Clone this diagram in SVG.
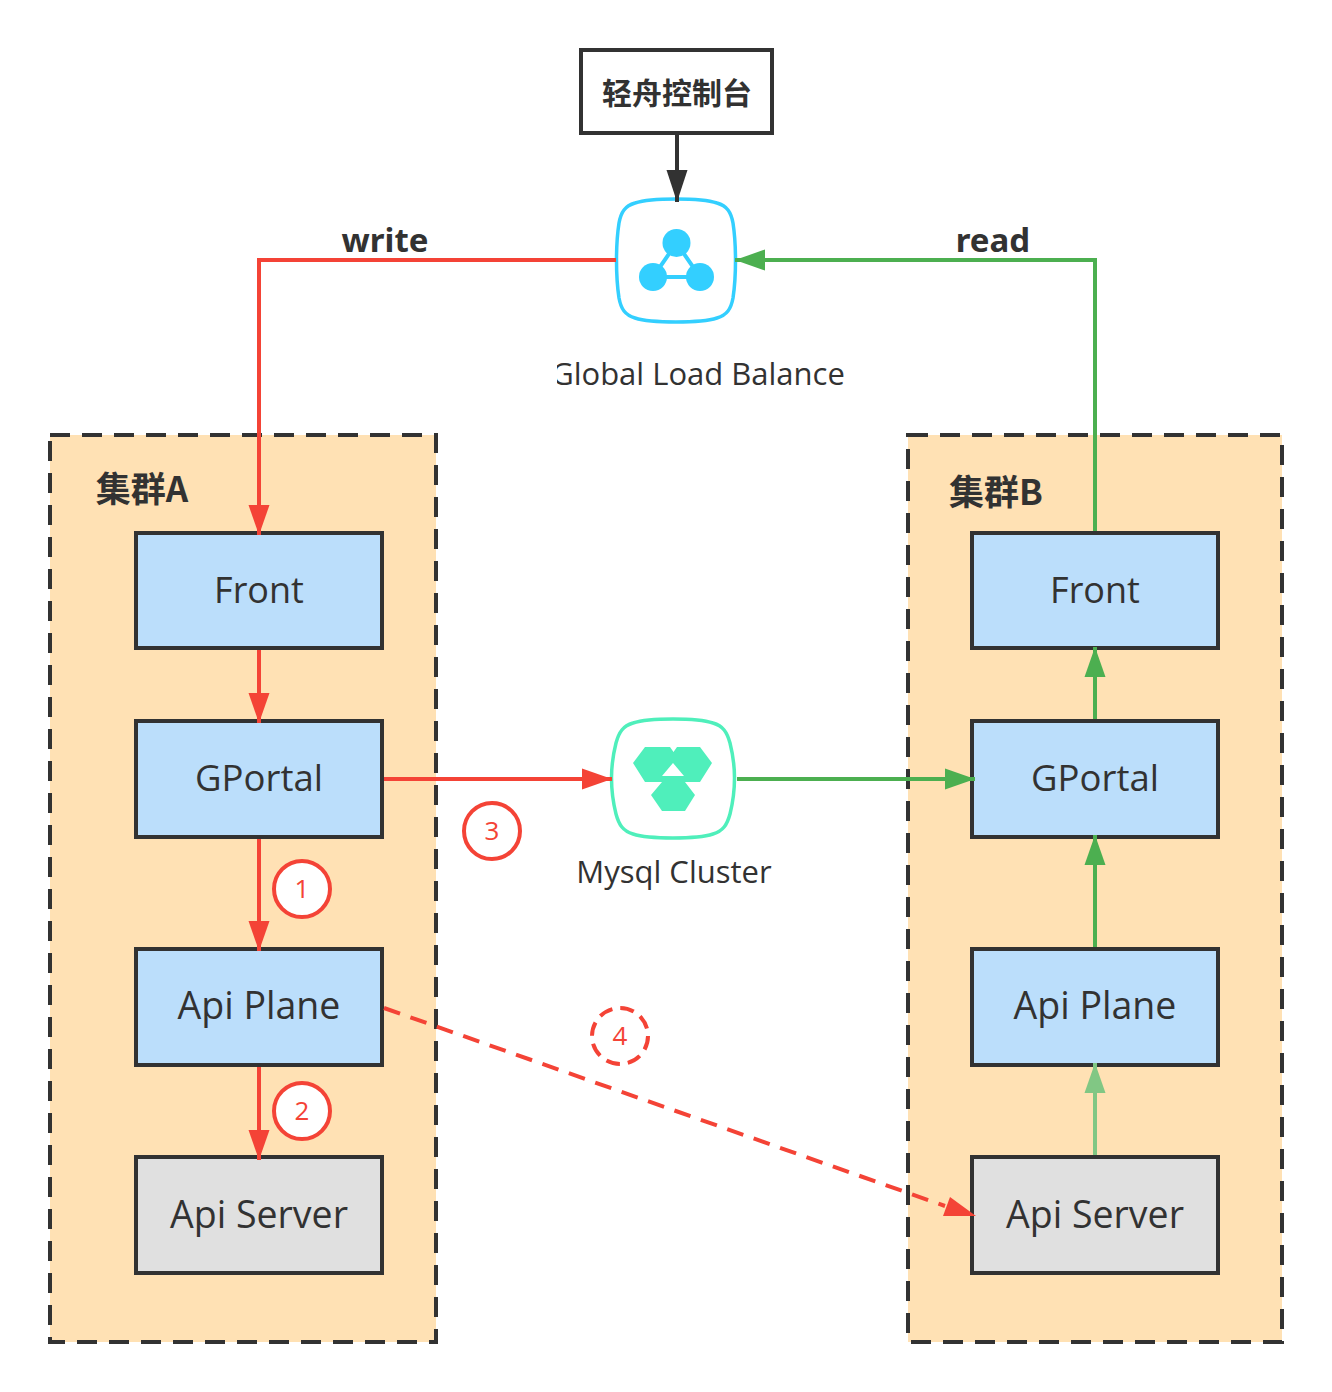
<svg xmlns="http://www.w3.org/2000/svg" width="1332" height="1392" viewBox="0 0 1332 1392">
<style>
text{font-family:"Open Sans","Noto Sans","Noto Sans CJK SC",sans-serif;fill:#323232;text-anchor:middle}
.cl{fill:#ffdfb0;fill-opacity:.95;stroke:#323232;stroke-width:4;stroke-dasharray:20 12}
.box{stroke:#323232;stroke-width:4}
.b{fill:#bbdefb}.g{fill:#e0e0e0}
.t{font-size:37px}
.h{font-size:35px;font-weight:700;font-family:"Noto Sans CJK SC","Noto Sans",sans-serif}
.lab{font-size:31px}
.w{font-size:33px;font-weight:700;font-family:"Noto Sans",sans-serif}
.n{font-size:26px;fill:#f44336}
.c{fill:#fff;stroke:#f44336;stroke-width:4}
.line{fill:none;stroke-width:4}
.r{stroke:#f44336}.gr{stroke:#4caf50}.k{stroke:#323232}
</style>
<defs>
<marker id="ar" markerUnits="userSpaceOnUse" markerWidth="31" markerHeight="22" refX="30" refY="11" orient="auto"><path d="M0 .5L30 11L0 21.500Z" fill="#f44336"/></marker>
<marker id="ag" markerUnits="userSpaceOnUse" markerWidth="31" markerHeight="22" refX="30" refY="11" orient="auto"><path d="M0 .5L30 11L0 21.500Z" fill="#4caf50"/></marker>
<marker id="al" markerUnits="userSpaceOnUse" markerWidth="31" markerHeight="22" refX="30" refY="11" orient="auto"><path d="M0 .5L30 11L0 21.500Z" fill="#81c784"/></marker>
<marker id="ak" markerUnits="userSpaceOnUse" markerWidth="33" markerHeight="22" refX="32" refY="11" orient="auto"><path d="M0 .5L32 11L0 21.500Z" fill="#323232"/></marker>
<clipPath id="gclip"><rect x="557" y="350" width="300" height="50"/></clipPath>
</defs>
<rect width="1332" height="1392" fill="#fff"/>
<g id="cluster-a"><rect class="cl" x="50" y="435" width="386" height="907"/><text class="h" x="142" y="502">集群A</text></g>
<g id="cluster-b"><rect class="cl" x="908" y="435" width="374" height="907"/><text class="h" x="996" y="505">集群B</text></g>
<g id="console"><rect x="581" y="50" width="191" height="83" fill="#fff" stroke="#323232" stroke-width="4"/><text x="677" y="104" style="font-size:30px;font-weight:700;font-family:'Noto Sans CJK SC',sans-serif">轻舟控制台</text></g>
<g id="glb">
<path d="M676 199C696 199 708 200 717 203C727 206 731 212 733 223C735 236 735.500 248 735.500 260C735.500 272 735 285 733 298C731 309 727 315 717 318C708 321 696 322 676 322C656 322 644 321 635 318C625 315 621 309 619 298C617 285 616.500 272 616.500 260C616.500 248 617 236 619 223C621 212 625 206 635 203C644 200 656 199 676 199Z" fill="#fff" stroke="#33cfff" stroke-width="3.500"/>
<path d="M676.500 243L653 277H700Z" fill="none" stroke="#33cfff" stroke-width="4"/>
<circle cx="676.500" cy="243" r="14" fill="#33cfff"/><circle cx="653" cy="277" r="14" fill="#33cfff"/><circle cx="700" cy="277" r="14" fill="#33cfff"/>
<text class="lab" x="698" y="385" clip-path="url(#gclip)">Global Load Balance</text>
</g>
<g id="mysql">
<path d="M673 719C692 719 704 720 713 723C723 726 727 732 730 743C733 755 734.500 766 734.500 778C734.500 790 733 802 730 814C727 825 723 831 713 834C704 837 692 838 673 838C654 838 642 837 633 834C623 831 619 825 616 814C613 802 611.500 790 611.500 778C611.500 766 613 755 616 743C619 732 623 726 633 723C642 720 654 719 673 719Z" fill="#fff" stroke="#4fefbb" stroke-width="3.500"/>
<path d="M633 763L645 747H670L673.500 752L677 747H700L712 763L700 782H685L695 795L685 811H662L651 795L662 782H645Z" fill="#4fefbb"/>
<path d="M662 776L673 763L684 776Z" fill="#fff"/>
<text class="lab" x="674" y="883">Mysql Cluster</text>
</g>
<g id="a-front"><rect class="box b" x="136" y="533" width="246" height="115"/><text class="t" x="259" y="603" style="font-size:36px">Front</text></g>
<g id="a-gportal"><rect class="box b" x="136" y="721" width="246" height="116"/><text class="t" x="259" y="791" style="font-size:36.500px">GPortal</text></g>
<g id="a-apiplane"><rect class="box b" x="136" y="949" width="246" height="116"/><text class="t" x="259" y="1019" style="font-size:37.500px">Api Plane</text></g>
<g id="a-apiserver"><rect class="box g" x="136" y="1157" width="246" height="116"/><text class="t" x="259" y="1228" style="font-size:37.500px">Api Server</text></g>
<g id="b-front"><rect class="box b" x="972" y="533" width="246" height="115"/><text class="t" x="1095" y="603" style="font-size:36px">Front</text></g>
<g id="b-gportal"><rect class="box b" x="972" y="721" width="246" height="116"/><text class="t" x="1095" y="791" style="font-size:36.500px">GPortal</text></g>
<g id="b-apiplane"><rect class="box b" x="972" y="949" width="246" height="116"/><text class="t" x="1095" y="1019" style="font-size:37.500px">Api Plane</text></g>
<g id="b-apiserver"><rect class="box g" x="972" y="1157" width="246" height="116"/><text class="t" x="1095" y="1228" style="font-size:37.500px">Api Server</text></g>
<g id="connectors">
<path class="line k" d="M677 134V202" marker-end="url(#ak)"/>
<path class="line r" d="M616 260H259V535" marker-end="url(#ar)"/>
<path class="line gr" d="M1095 531V260H735" marker-end="url(#ag)"/>
<path class="line r" d="M259 650V723" marker-end="url(#ar)"/>
<path class="line r" d="M259 839V951" marker-end="url(#ar)"/>
<path class="line r" d="M259 1067V1160" marker-end="url(#ar)"/>
<path class="line r" d="M384 779H612" marker-end="url(#ar)"/>
<path class="line gr" d="M737 779H975" marker-end="url(#ag)"/>
<path class="line gr" d="M1095 719V647" marker-end="url(#ag)"/>
<path class="line gr" d="M1095 947V835" marker-end="url(#ag)"/>
<path d="M1095 1155V1063" class="line" stroke="#81c784" marker-end="url(#al)"/>
<path class="line r" d="M384 1008L945 1206" stroke-dasharray="17 11"/>
<path d="M950 1197L976 1216H943Z" fill="#f44336"/>
</g>
<text class="w" x="385" y="252">write</text>
<text class="w" x="993" y="252">read</text>
<g id="step-1"><circle class="c" cx="302" cy="889" r="28"/><text class="n" x="302" y="898">1</text></g>
<g id="step-2"><circle class="c" cx="302" cy="1111" r="28"/><text class="n" x="302" y="1120">2</text></g>
<g id="step-3"><circle class="c" cx="492" cy="831" r="28"/><text class="n" x="492" y="840">3</text></g>
<g id="step-4"><circle class="c" cx="620" cy="1036" r="28" stroke-dasharray="14 8" style="fill:none"/><text class="n" x="620" y="1045">4</text></g>
</svg>
